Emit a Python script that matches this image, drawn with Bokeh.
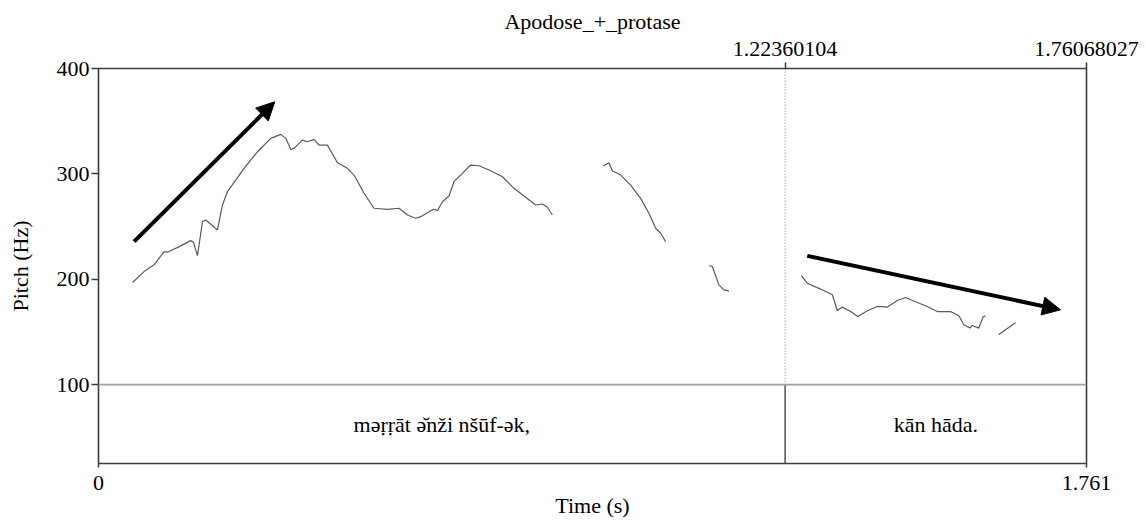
from bokeh.plotting import figure
from bokeh.models import (Range1d, LinearAxis, FixedTicker, Arrow, NormalHead,
                          ColumnDataSource, Span)
from bokeh.core.properties import value
from bokeh.embed import file_html
from bokeh.resources import INLINE

# ---------------- data ----------------
TITLE = "Apodose_+_protase"
X_LABEL = "Time (s)"
Y_LABEL = "Pitch (Hz)"

t_start = 0.0
t_end = 1.76068027
boundary = 1.22360104
pitch_min = 100
pitch_max = 400

pitch_ticks = [100, 200, 300, 400]
pitch_tick_labels = ["100", "200", "300", "400"]
time_ticks = [0.0, 1.76068027]
time_tick_labels = ["0", "1.761"]
top_ticks = [1.22360104, 1.76068027]
top_tick_labels = ["1.22360104", "1.76068027"]

tier_starts = [0.0, 1.22360104]
tier_ends = [1.22360104, 1.76068027]
tier_texts = ["məṛṛāt ə̆nži nšūf-ək,", "kān hāda."]

seg1_t = [0.0606, 0.0812, 0.0991, 0.1169, 0.1229, 0.1466, 0.1644, 0.1693, 0.1764,
          0.1853, 0.1912, 0.2120, 0.2209, 0.2298, 0.2594, 0.2833, 0.3070, 0.3248,
          0.3337, 0.3426, 0.3485, 0.3634, 0.3724, 0.3841, 0.3930, 0.4080, 0.4258,
          0.4436, 0.4554, 0.4732, 0.4910, 0.5149, 0.5355, 0.5505, 0.5653, 0.5742,
          0.5920, 0.5979, 0.6040, 0.6129, 0.6246, 0.6335, 0.6485, 0.6633, 0.6781,
          0.6989, 0.7198, 0.7404, 0.7582, 0.7791, 0.7910, 0.7999, 0.8088]
seg1_f = [196.9, 207.3, 213.7, 226.3, 225.7, 231.7, 236.7, 234.8, 222.5,
          254.7, 256.3, 246.8, 270.5, 283.1, 305.3, 321.0, 333.7, 337.5,
          333.7, 323.3, 324.2, 332.1, 330.5, 332.7, 327.3, 327.3, 310.6,
          305.3, 298.9, 281.6, 267.4, 266.4, 267.4, 261.0, 257.9, 259.4,
          265.1, 266.4, 265.1, 273.6, 279.0, 292.6, 300.5, 308.4, 307.7,
          303.0, 297.3, 286.3, 279.0, 270.5, 271.4, 268.3, 261.0]

seg2_t = [0.8997, 0.9097, 0.9157, 0.9305, 0.9483, 0.9661, 0.9809, 0.9929, 1.0018, 1.0107]
seg2_f = [307.4, 310.6, 303.0, 298.9, 289.4, 276.8, 262.6, 248.4, 243.7, 235.7]

seg3_t = [1.0885, 1.0939, 1.1056, 1.1146, 1.1235]
seg3_f = [213.0, 212.1, 194.7, 190.0, 189.0]

seg4_t = [1.2525, 1.2631, 1.2868, 1.3077, 1.3166, 1.3255, 1.3403, 1.3533, 1.3700,
          1.3878, 1.4057, 1.4235, 1.4383, 1.4591, 1.4769, 1.4947, 1.5184, 1.5332,
          1.5421, 1.5528, 1.5571, 1.5689, 1.5760, 1.5808]
seg4_f = [203.5, 196.3, 190.7, 185.3, 170.4, 173.6, 169.4, 164.7, 170.1,
          174.2, 173.6, 179.9, 182.7, 178.0, 174.2, 169.4, 169.4, 165.4,
          156.8, 153.7, 156.2, 153.7, 164.1, 165.4]

seg5_t = [1.6040, 1.6164, 1.6342]
seg5_f = [147.4, 152.1, 158.7]

arrow_t0 = [0.0634, 1.2631]
arrow_f0 = [235.7, 222.2]
arrow_t1 = [0.3141, 1.7144]
arrow_f1 = [368.4, 171.0]

# ---------------- figure ----------------
FONT = "Liberation Serif"
FS = "22px"
FRAME = "#3c3c3c"
Y_BOTTOM = 25.2  # bottom of the text tier

p = figure(width=1146, height=520, output_backend="svg", toolbar_location=None,
           x_range=Range1d(t_start, t_end), y_range=Range1d(Y_BOTTOM, pitch_max),
           x_axis_location=None, y_axis_location=None,
           min_border_left=98, min_border_right=60, min_border_top=68, min_border_bottom=56,
           background_fill_color="white", border_fill_color="white")
p.outline_line_color = FRAME
p.outline_line_width = 1.6
for g in p.grid:
    g.visible = False


def style_axis(ax, tick_out, standoff):
    ax.axis_line_color = None
    ax.major_tick_out = tick_out
    ax.major_tick_in = 0
    ax.major_tick_line_color = FRAME
    ax.major_tick_line_width = 1.5
    ax.minor_tick_line_color = None
    ax.major_label_text_font = FONT
    ax.major_label_text_font_size = FS
    ax.major_label_text_color = "black"
    ax.major_label_standoff = standoff
    ax.axis_label_text_font = FONT
    ax.axis_label_text_font_size = FS
    ax.axis_label_text_font_style = "normal"
    ax.axis_label_text_color = "black"


ya = LinearAxis(ticker=FixedTicker(ticks=pitch_ticks), axis_label=Y_LABEL)
ya.major_label_overrides = dict(zip(pitch_ticks, pitch_tick_labels))
style_axis(ya, 7, 2)
ya.axis_label_standoff = 21
p.add_layout(ya, "left")

xa = LinearAxis(ticker=FixedTicker(ticks=time_ticks), axis_label=X_LABEL)
xa.major_label_overrides = dict(zip(time_ticks, time_tick_labels))
style_axis(xa, 4, 8)
xa.axis_label_standoff = 0
p.add_layout(xa, "below")

ta = LinearAxis(ticker=FixedTicker(ticks=top_ticks), axis_label=TITLE)
ta.major_label_overrides = dict(zip(top_ticks, top_tick_labels))
style_axis(ta, 6, 7)
ta.axis_label_standoff = 5
p.add_layout(ta, "above")

# tier separator at 100 Hz
p.add_layout(Span(location=pitch_min, dimension="width", line_color="#a0a0a0", line_width=1.8))

# interval boundary: dotted in pitch panel, solid in tier
p.segment(x0=[boundary], y0=[pitch_min], x1=[boundary], y1=[pitch_max],
          line_color="#777777", line_width=1, line_dash="1 2")
p.segment(x0=[boundary], y0=[Y_BOTTOM], x1=[boundary], y1=[pitch_min],
          line_color="#444444", line_width=1.4)

# pitch contour
p.multi_line(xs=[seg1_t, seg2_t, seg3_t, seg4_t, seg5_t],
             ys=[seg1_f, seg2_f, seg3_f, seg4_f, seg5_f],
             line_color="#5a5a5a", line_width=1.2)

# tier texts
mids = [(s + e) / 2 for s, e in zip(tier_starts, tier_ends)]
p.text(x=mids, y=[(Y_BOTTOM + pitch_min) / 2] * len(mids), text=tier_texts,
       text_font=value(FONT), text_font_size=FS, text_color="black",
       text_align="center", text_baseline="middle")

# arrows
asrc = ColumnDataSource(dict(x0=arrow_t0, y0=arrow_f0, x1=arrow_t1, y1=arrow_f1))
p.add_layout(Arrow(end=NormalHead(size=18, fill_color="black", line_color="black", line_width=1),
                   x_start="x0", y_start="y0", x_end="x1", y_end="y1", source=asrc,
                   line_color="black", line_width=4))

open("out.html", "w").write(file_html(p, INLINE))
